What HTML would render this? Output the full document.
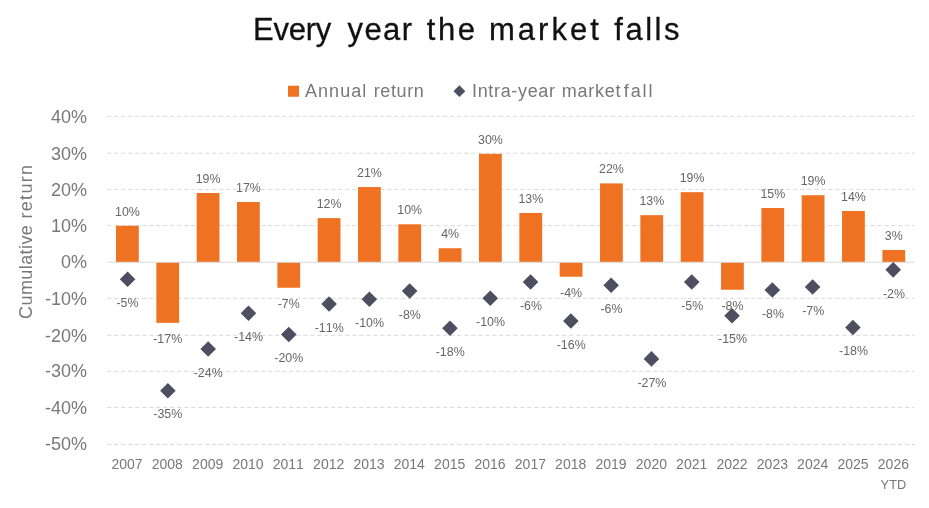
<!DOCTYPE html>
<html lang="en">
<head>
<meta charset="utf-8">
<title>Every year the market falls</title>
<style>
html,body{margin:0;padding:0;background:#fff;}
body{width:929px;height:508px;overflow:hidden;}
svg{display:block;}
text{font-family:"Liberation Sans",sans-serif;}
.title text{font-size:31px;fill:#111;stroke:#111;stroke-width:0.3px;}
.ax{font-size:18px;fill:#787878;}
.yr{font-size:14px;fill:#787878;font-kerning:none;}
.lb{font-size:12.4px;fill:#666;font-kerning:none;}
.lg{font-size:18px;fill:#787878;}
</style>
</head>
<body>
<svg width="929" height="508" viewBox="0 0 929 508">
<rect width="929" height="508" fill="#ffffff"/>
<g class="title">
<text x="253.00" y="40" textLength="78.25" lengthAdjust="spacing">Every</text>
<text x="347.50" y="40" textLength="64.50" lengthAdjust="spacing">year</text>
<text x="426.75" y="40" textLength="48.25" lengthAdjust="spacing">the</text>
<text x="489.00" y="40" textLength="109.75" lengthAdjust="spacing">market</text>
<text x="614.25" y="40" textLength="65.25" lengthAdjust="spacing">falls</text>
</g>
<rect x="288" y="85.75" width="11" height="11" fill="#ef7223"/>
<g class="lg">
<text x="305.00" y="96.75" textLength="61.25" lengthAdjust="spacing">Annual</text>
<text x="373.75" y="96.75" textLength="50.00" lengthAdjust="spacing">return</text>
<text x="472.00" y="96.75" textLength="83.00" lengthAdjust="spacing">Intra-year</text>
<text x="561.75" y="96.75" textLength="58.75" lengthAdjust="spacing">market</text>
<text x="623.75" y="96.75" textLength="28.75" lengthAdjust="spacing">fall</text>
</g>
<path d="M459.4 85.3l5.9 5.9-5.9 5.9-5.9-5.9z" fill="#4f4e60"/>
<g stroke="#d9d9d9" stroke-width="1" stroke-dasharray="4.3 2.7" fill="none">
<path d="M107.1 116.25H914.5"/>
<path d="M107.1 153.20H914.5"/>
<path d="M107.1 189.40H914.5"/>
<path d="M107.1 225.60H914.5"/>
<path d="M107.1 298.30H914.5"/>
<path d="M107.1 335.25H914.5"/>
<path d="M107.1 371.40H914.5"/>
<path d="M107.1 407.40H914.5"/>
<path d="M107.1 444.50H914.5"/>
</g>
<g class="ax" text-anchor="end">
<text x="87.1" y="123.25">40%</text>
<text x="87.1" y="159.50">30%</text>
<text x="87.1" y="195.70">20%</text>
<text x="87.1" y="232.40">10%</text>
<text x="87.1" y="268.45">0%</text>
<text x="87.1" y="304.70">-10%</text>
<text x="87.1" y="341.65">-20%</text>
<text x="87.1" y="377.30">-30%</text>
<text x="87.1" y="414.35">-40%</text>
<text x="87.1" y="450.20">-50%</text>
</g>
<text class="ax" transform="translate(31.5,318.9) rotate(-90)" textLength="93.7" lengthAdjust="spacing">Cumulative</text>
<text class="ax" transform="translate(31.5,218.5) rotate(-90)" textLength="53.5" lengthAdjust="spacing">return</text>
<g fill="#ef7223">
<rect x="116.00" y="225.75" width="22.8" height="36.50"/>
<rect x="156.34" y="262.25" width="22.8" height="60.59"/>
<rect x="196.67" y="193.01" width="22.8" height="69.24"/>
<rect x="237.00" y="202.03" width="22.8" height="60.22"/>
<rect x="277.34" y="262.25" width="22.8" height="25.51"/>
<rect x="317.68" y="218.09" width="22.8" height="44.16"/>
<rect x="358.01" y="187.06" width="22.8" height="75.19"/>
<rect x="398.35" y="224.29" width="22.8" height="37.96"/>
<rect x="438.68" y="248.23" width="22.8" height="14.02"/>
<rect x="479.01" y="153.84" width="22.8" height="108.41"/>
<rect x="519.35" y="212.97" width="22.8" height="49.28"/>
<rect x="559.69" y="262.25" width="22.8" height="14.49"/>
<rect x="600.02" y="183.41" width="22.8" height="78.84"/>
<rect x="640.36" y="215.16" width="22.8" height="47.09"/>
<rect x="680.69" y="192.17" width="22.8" height="70.08"/>
<rect x="721.02" y="262.25" width="22.8" height="27.48"/>
<rect x="761.36" y="208.01" width="22.8" height="54.24"/>
<rect x="801.70" y="195.24" width="22.8" height="67.01"/>
<rect x="842.03" y="211.00" width="22.8" height="51.25"/>
<rect x="882.37" y="249.99" width="22.8" height="12.26"/>
</g>
<path d="M107.1 262.25H914.5" stroke="#d9d9d9" stroke-width="1" fill="none"/>
<g fill="#4f4e60">
<path d="M127.60 271.41l7.8 7.8-7.8 7.8-7.8-7.8z"/>
<path d="M167.90 382.88l7.8 7.8-7.8 7.8-7.8-7.8z"/>
<path d="M208.19 341.27l7.8 7.8-7.8 7.8-7.8-7.8z"/>
<path d="M248.48 305.39l7.8 7.8-7.8 7.8-7.8-7.8z"/>
<path d="M288.78 326.67l7.8 7.8-7.8 7.8-7.8-7.8z"/>
<path d="M329.08 296.16l7.8 7.8-7.8 7.8-7.8-7.8z"/>
<path d="M369.37 291.41l7.8 7.8-7.8 7.8-7.8-7.8z"/>
<path d="M409.67 283.16l7.8 7.8-7.8 7.8-7.8-7.8z"/>
<path d="M449.96 320.39l7.8 7.8-7.8 7.8-7.8-7.8z"/>
<path d="M490.25 290.39l7.8 7.8-7.8 7.8-7.8-7.8z"/>
<path d="M530.55 274.15l7.8 7.8-7.8 7.8-7.8-7.8z"/>
<path d="M570.85 313.16l7.8 7.8-7.8 7.8-7.8-7.8z"/>
<path d="M611.14 277.39l7.8 7.8-7.8 7.8-7.8-7.8z"/>
<path d="M651.44 351.12l7.8 7.8-7.8 7.8-7.8-7.8z"/>
<path d="M691.73 274.15l7.8 7.8-7.8 7.8-7.8-7.8z"/>
<path d="M732.02 307.91l7.8 7.8-7.8 7.8-7.8-7.8z"/>
<path d="M772.32 282.14l7.8 7.8-7.8 7.8-7.8-7.8z"/>
<path d="M812.62 279.15l7.8 7.8-7.8 7.8-7.8-7.8z"/>
<path d="M852.91 319.73l7.8 7.8-7.8 7.8-7.8-7.8z"/>
<path d="M893.21 262.06l7.8 7.8-7.8 7.8-7.8-7.8z"/>
</g>
<g class="lb" text-anchor="middle">
<text x="127.4" y="215.5">10%</text>
<text x="167.7" y="342.7">-17%</text>
<text x="208.1" y="182.8">19%</text>
<text x="248.4" y="191.8">17%</text>
<text x="288.7" y="307.7">-7%</text>
<text x="329.1" y="207.8">12%</text>
<text x="369.4" y="176.8">21%</text>
<text x="409.7" y="214.0">10%</text>
<text x="450.1" y="238.0">4%</text>
<text x="490.4" y="143.6">30%</text>
<text x="530.8" y="202.7">13%</text>
<text x="571.1" y="296.6">-4%</text>
<text x="611.4" y="173.2">22%</text>
<text x="651.8" y="204.9">13%</text>
<text x="692.1" y="181.9">19%</text>
<text x="732.4" y="309.6">-8%</text>
<text x="772.8" y="197.8">15%</text>
<text x="813.1" y="185.0">19%</text>
<text x="853.4" y="200.8">14%</text>
<text x="893.8" y="239.7">3%</text>
<text x="127.5" y="306.9">-5%</text>
<text x="167.8" y="418.3">-35%</text>
<text x="208.2" y="376.7">-24%</text>
<text x="248.5" y="340.8">-14%</text>
<text x="288.8" y="362.1">-20%</text>
<text x="329.2" y="331.6">-11%</text>
<text x="369.5" y="326.9">-10%</text>
<text x="409.8" y="318.6">-8%</text>
<text x="450.2" y="355.8">-18%</text>
<text x="490.5" y="325.8">-10%</text>
<text x="530.9" y="309.6">-6%</text>
<text x="571.2" y="348.6">-16%</text>
<text x="611.5" y="312.8">-6%</text>
<text x="651.9" y="386.6">-27%</text>
<text x="692.2" y="309.6">-5%</text>
<text x="732.5" y="343.4">-15%</text>
<text x="772.9" y="317.6">-8%</text>
<text x="813.2" y="314.6">-7%</text>
<text x="853.5" y="355.2">-18%</text>
<text x="893.9" y="297.5">-2%</text>
</g>
<g class="yr" text-anchor="middle">
<text x="127.0" y="469.2">2007</text>
<text x="167.3" y="469.2">2008</text>
<text x="207.7" y="469.2">2009</text>
<text x="248.0" y="469.2">2010</text>
<text x="288.3" y="469.2">2011</text>
<text x="328.7" y="469.2">2012</text>
<text x="369.0" y="469.2">2013</text>
<text x="409.3" y="469.2">2014</text>
<text x="449.7" y="469.2">2015</text>
<text x="490.0" y="469.2">2016</text>
<text x="530.4" y="469.2">2017</text>
<text x="570.7" y="469.2">2018</text>
<text x="611.0" y="469.2">2019</text>
<text x="651.4" y="469.2">2020</text>
<text x="691.7" y="469.2">2021</text>
<text x="732.0" y="469.2">2022</text>
<text x="772.4" y="469.2">2023</text>
<text x="812.7" y="469.2">2024</text>
<text x="853.0" y="469.2">2025</text>
<text x="893.4" y="469.2">2026</text>
<text x="893.4" y="488.8" style="font-size:12.8px">YTD</text>
</g>
</svg>
</body>
</html>
